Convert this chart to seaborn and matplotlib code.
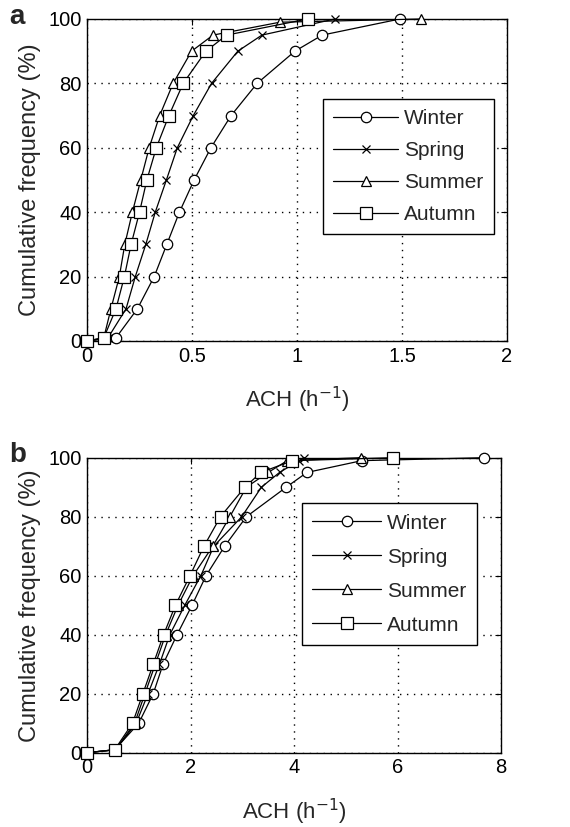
import numpy as np
import pandas as pd
import matplotlib
matplotlib.use("Agg")
import matplotlib.pyplot as plt
import seaborn as sns

seasons = ["Winter", "Spring", "Summer", "Autumn"]

# Panel a: ACH (h^-1) at cumulative frequency levels (%)
a_winter_y = [0, 1, 10, 20, 30, 40, 50, 60, 70, 80, 90, 95, 100]
a_winter_x = [0, 0.138, 0.24, 0.32, 0.38, 0.44, 0.51, 0.59, 0.686, 0.81, 0.99, 1.12, 1.49]
a_spring_y = [0, 1, 10, 20, 30, 40, 50, 60, 70, 80, 90, 95, 100]
a_spring_x = [0, 0.10, 0.186, 0.23, 0.28, 0.325, 0.378, 0.43, 0.506, 0.593, 0.718, 0.833, 1.18]
a_summer_y = [0, 1, 10, 20, 30, 40, 50, 60, 70, 80, 90, 95, 99, 100]
a_summer_x = [0, 0.08, 0.114, 0.154, 0.18, 0.216, 0.256, 0.296, 0.346, 0.41, 0.498, 0.60, 0.918, 1.59]
a_autumn_y = [0, 1, 10, 20, 30, 40, 50, 60, 70, 80, 90, 95, 100]
a_autumn_x = [0, 0.08, 0.138, 0.178, 0.21, 0.25, 0.285, 0.33, 0.39, 0.458, 0.566, 0.665, 1.05]

# Panel b
b_winter_y = [0, 1, 10, 20, 30, 40, 50, 60, 70, 80, 90, 95, 99, 100]
b_winter_x = [0, 0.535, 1.0, 1.28, 1.47, 1.74, 2.03, 2.30, 2.66, 3.08, 3.85, 4.25, 5.31, 7.68]
b_spring_y = [0, 1, 10, 20, 30, 40, 50, 60, 70, 80, 90, 95, 99, 100]
b_spring_x = [0, 0.55, 0.95, 1.18, 1.40, 1.60, 1.89, 2.20, 2.45, 2.99, 3.37, 3.72, 4.10, 4.20]
b_summer_y = [0, 1, 10, 20, 30, 40, 50, 60, 70, 80, 90, 95, 99, 100]
b_summer_x = [0, 0.55, 0.92, 1.12, 1.32, 1.52, 1.76, 2.05, 2.43, 2.76, 3.08, 3.50, 3.87, 5.29]
b_autumn_y = [0, 1, 10, 20, 30, 40, 50, 60, 70, 80, 90, 95, 99, 100]
b_autumn_x = [0, 0.535, 0.88, 1.08, 1.28, 1.48, 1.71, 1.99, 2.26, 2.58, 3.05, 3.36, 3.97, 5.92]

a_xticks = [0, 0.5, 1, 1.5, 2]
a_xticklabels = ["0", "0.5", "1", "1.5", "2"]
b_xticks = [0, 2, 4, 6, 8]
yticks = [0, 20, 40, 60, 80, 100]


def frame(xs, ys):
    rows = []
    for s, x, y in zip(seasons, xs, ys):
        for xi, yi in zip(x, y):
            rows.append((s, xi, yi))
    return pd.DataFrame(rows, columns=["season", "ach", "cf"])


df_a = frame([a_winter_x, a_spring_x, a_summer_x, a_autumn_x],
             [a_winter_y, a_spring_y, a_summer_y, a_autumn_y])
df_b = frame([b_winter_x, b_spring_x, b_summer_x, b_autumn_x],
             [b_winter_y, b_spring_y, b_summer_y, b_autumn_y])

sns.set_theme(style="white")
plt.rcParams["font.family"] = ["Liberation Sans", "DejaVu Sans"]

fig = plt.figure(figsize=(5.70, 8.27), dpi=100)
ax_a = fig.add_axes([87 / 570, 1 - 341 / 827, 420 / 570, 322 / 827])
ax_b = fig.add_axes([87 / 570, 1 - 752.7 / 827, 414 / 570, 295 / 827])

markers = {"Winter": "o", "Spring": "x", "Summer": "^", "Autumn": "s"}
msizes = {"Winter": 7.5, "Spring": 6, "Summer": 6.5, "Autumn": 8}


def draw(ax, df, xlim, xticks, xticklabels, legend_bbox, hl, ls, bp):
    for s in seasons:
        sub = df[df.season == s]
        sns.lineplot(data=sub, x="ach", y="cf", ax=ax, estimator=None, sort=False,
                     color="black", lw=0.9, marker=markers[s], markersize=msizes[s],
                     markerfacecolor="white", markeredgecolor="black",
                     markeredgewidth=0.9, label=s, legend=False, clip_on=False, zorder=3)
    ax.set_xlim(*xlim)
    ax.set_ylim(0, 100)
    ax.set_xticks(xticks)
    ax.set_xticklabels(xticklabels)
    ax.set_yticks(yticks)
    ax.grid(True, color="black", linestyle=(0, (1, 4)), lw=1.0)
    for sp in ax.spines.values():
        sp.set_color("black")
        sp.set_linewidth(1.0)
        sp.set_visible(True)
    ax.tick_params(direction="in", top=True, right=True, length=4, width=0.8,
                   labelsize=14.5, colors="black", pad=4)
    ax.set_xlabel("ACH (h$^{-1}$)", fontsize=16, labelpad=14)
    ax.set_ylabel("Cumulative frequency (%)", fontsize=17, labelpad=5)
    handles = ax.get_lines()[:4]
    leg = ax.legend(handles, seasons, loc="upper left", bbox_to_anchor=legend_bbox,
                    borderaxespad=0, frameon=True, fancybox=False, edgecolor="black",
                    framealpha=1, fontsize=15, handlelength=hl, handletextpad=0.3,
                    labelspacing=ls, borderpad=bp, numpoints=1)
    leg.get_frame().set_linewidth(1.0)


draw(ax_a, df_a, (0, 2), a_xticks, a_xticklabels, (0.562, 0.752), 3.1, 0.62, 0.5)
draw(ax_b, df_b, (0, 8), b_xticks, [str(t) for t in b_xticks], (0.519, 0.846), 3.3, 0.72, 0.5)

fig.text(17 / 570, 1 - 17 / 827, "a", fontsize=20, fontweight="bold", va="center", ha="center")
fig.text(18 / 570, 1 - 455 / 827, "b", fontsize=20, fontweight="bold", va="center", ha="center")

fig.savefig("out.png", dpi=100, facecolor="white")
